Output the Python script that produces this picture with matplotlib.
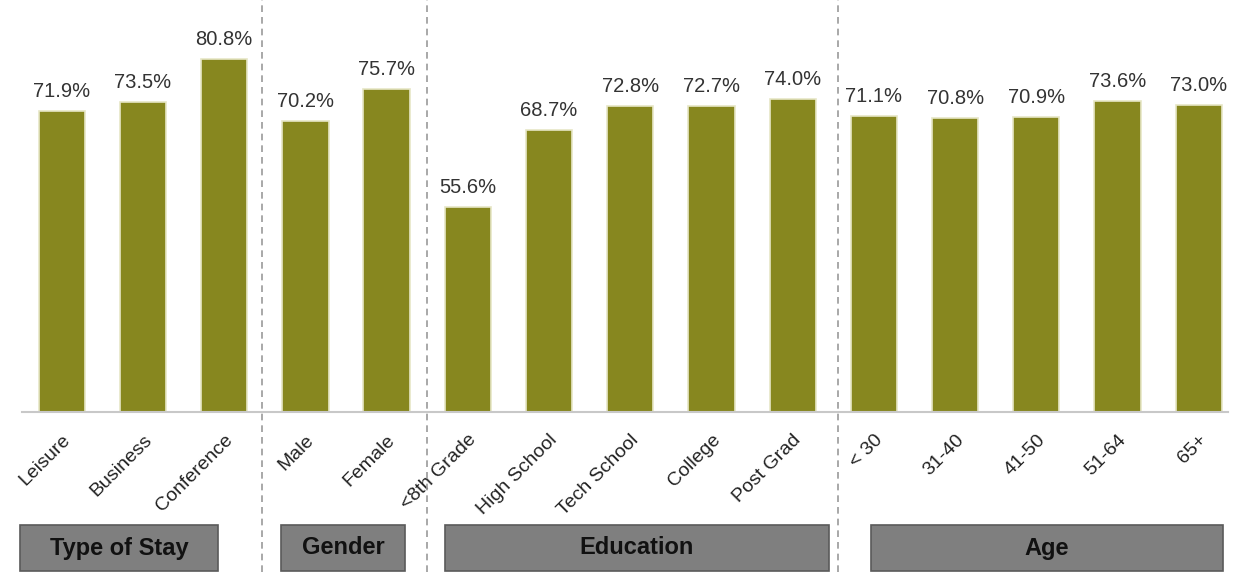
import matplotlib.pyplot as plt
from matplotlib.lines import Line2D
from matplotlib.patches import Rectangle
import numpy as np

plt.rcParams['font.family'] = ['Liberation Sans', 'DejaVu Sans']

# data
categories = ["Leisure", "Business", "Conference", "Male", "Female",
              "<8th Grade", "High School", "Tech School", "College", "Post Grad",
              "< 30", "31-40", "41-50", "51-64", "65+"]
values = [71.9, 73.5, 80.8, 70.2, 75.7,
          55.6, 68.7, 72.8, 72.7, 74.0,
          71.1, 70.8, 70.9, 73.6, 73.0]
groups = ["Type of Stay", "Gender", "Education", "Age"]

W, H = 1238, 572
fig = plt.figure(figsize=(W / 100, H / 100), dpi=100)
ax = fig.add_axes([22 / W, (H - 412) / H, (1228 - 22) / W, 412 / H])

x = np.arange(len(categories))
ax.bar(x, values, width=0.57, color="#87871f", edgecolor="#e6e6c6", linewidth=1.2)

for xi, v in zip(x, values):
    ax.text(xi, v + 1.7, f"{v:.1f}%", ha="center", va="bottom",
            fontsize=14.5, color="#333333")

ax.set_xlim(-0.49, 14.36)
ax.set_ylim(20.7, 90.8)
ax.set_yticks([])
ax.set_xticks(x)
ax.set_xticklabels(categories, rotation=45, ha="right", rotation_mode="anchor",
                   fontsize=14, color="#222222")
ax.tick_params(axis="x", length=0, pad=14)
for s in ["top", "right", "left"]:
    ax.spines[s].set_visible(False)
ax.spines["bottom"].set_color("#c8c8c8")
ax.spines["bottom"].set_linewidth(1.5)

# dashed separators
for px in [262, 427, 838]:
    fig.add_artist(Line2D([px / W, px / W], [0, 1], transform=fig.transFigure,
                          color="#999999", linestyle=(0, (4, 3)), linewidth=1.2))

# group boxes
boxes = [(20, 218), (281, 405), (445, 829), (871, 1223)]
for (x0, x1), name in zip(boxes, groups):
    fig.add_artist(Rectangle((x0 / W, 1 / H), (x1 - x0) / W, 46 / H,
                             transform=fig.transFigure, facecolor="#7f7f7f",
                             edgecolor="#5a5a5a", linewidth=1.2))
    fig.text((x0 + x1) / 2 / W, 24 / H, name, ha="center", va="center",
             fontsize=17, fontweight="bold", color="#111111")

fig.savefig("out.png", dpi=100)
